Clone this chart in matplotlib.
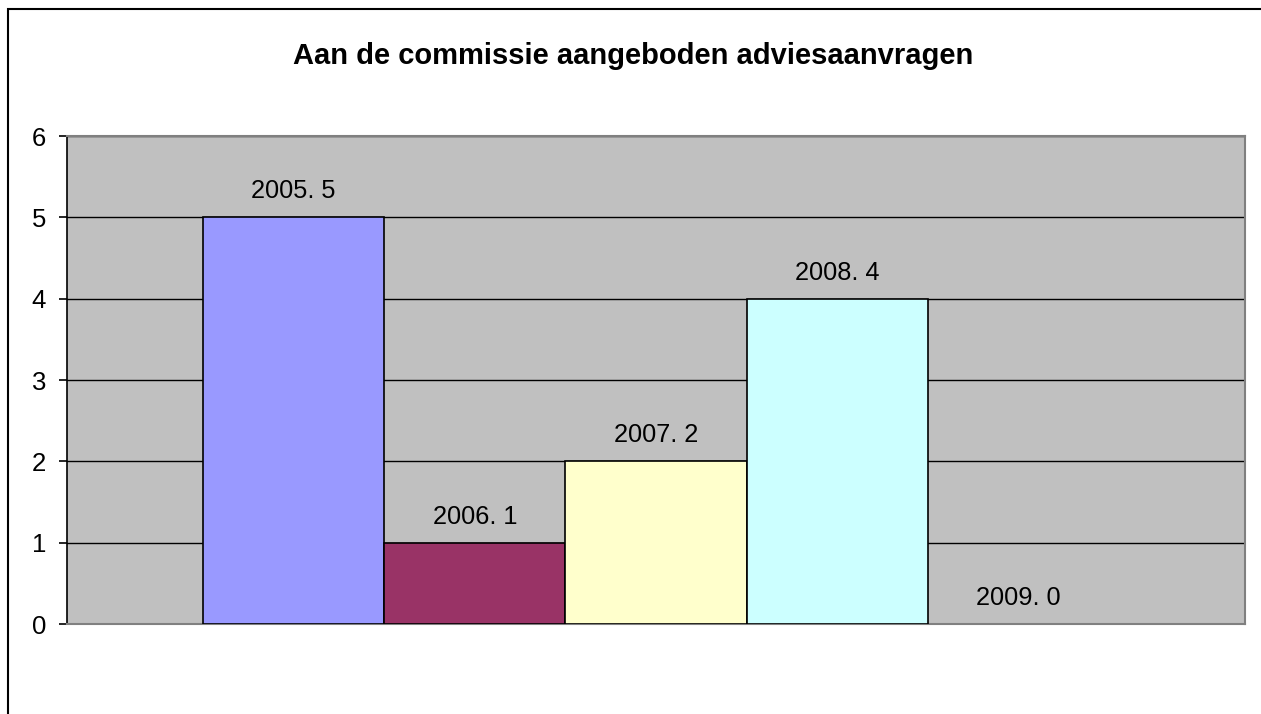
import matplotlib
matplotlib.use("Agg")
import matplotlib.pyplot as plt
from matplotlib.patches import Rectangle

# data
years = ["2005", "2006", "2007", "2008", "2009"]
counts = [5, 1, 2, 4, 0]
colors = ["#9999FF", "#993366", "#FFFFCC", "#CCFFFF", "#660066"]
title = "Aan de commissie aangeboden adviesaanvragen"

plt.rcParams['font.family'] = ['Liberation Sans', 'DejaVu Sans']

W, H = 1261, 714
fig = plt.figure(figsize=(W / 100, H / 100), dpi=100)
fig.patch.set_facecolor("white")

# chart area border (runs off the right and bottom of the picture)
fig.patches.append(Rectangle((8 / W, -0.1), 1.2, 1 - 9 / H + 0.1,
                             transform=fig.transFigure, fill=False,
                             edgecolor="black", linewidth=1.5, zorder=0))

ax = fig.add_axes([67 / W, 1 - 624 / H, (1245 - 67) / W, (624 - 136) / H])
ax.set_facecolor("#C0C0C0")

# one category, five series side by side, gap width 150%
n = len(years)
bw = 1.0
x = [i * bw for i in range(n)]
edges = ["black" if v > 0 else "none" for v in counts]
bars = ax.bar(x, counts, width=bw, color=colors, edgecolor=edges,
              linewidth=1.2, zorder=3)
gap = 1.5 * bw / 2
ax.set_xlim(x[0] - bw / 2 - gap, x[-1] + bw / 2 + gap)
ax.set_ylim(0, 6)

for xi, yr, v in zip(x, years, counts):
    ax.annotate(f"{yr}. {v}", (xi, v), xytext=(0, 10), textcoords="offset points",
                ha="center", va="bottom", fontsize=18.3, zorder=4)

ax.set_yticks(range(0, 7))
ax.yaxis.grid(True, color="black", linewidth=1.0, zorder=1)
ax.set_axisbelow(True)
ax.tick_params(axis="y", length=6, width=1.2, pad=9, labelsize=18.5)
ax.set_xticks([])

for side in ["top", "right", "bottom"]:
    ax.spines[side].set_color("#808080")
    ax.spines[side].set_linewidth(1.5)
ax.spines["left"].set_color("black")
ax.spines["left"].set_linewidth(1.2)

fig.text(633 / W, 1 - 56 / H, title, ha="center", va="center",
         fontsize=21, fontweight="bold")

fig.savefig("out.png", dpi=100)
